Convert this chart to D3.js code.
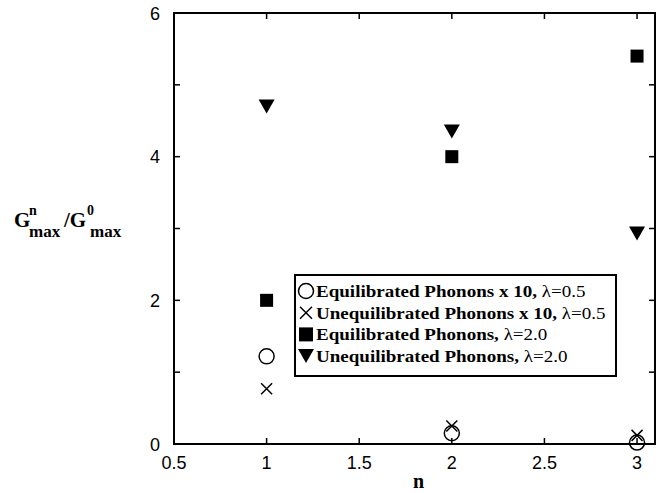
<!DOCTYPE html>
<html>
<head>
<meta charset="utf-8">
<script src="https://cdn.jsdelivr.net/npm/d3@7"></script>
<style>
  body { margin: 0; background: #fff; }
</style>
</head>
<body>
<div class="container"></div>
<script>
const nValues = [1, 2, 3];
const eqPhonons05 = [1.22, 0.15, 0.02];   // x 10, lambda=0.5
const uneqPhonons05 = [0.77, 0.25, 0.12]; // x 10, lambda=0.5
const eqPhonons20 = [2.0, 4.0, 5.4];
const uneqPhonons20 = [4.7, 4.35, 2.93];
const xTicks = [0.5, 1, 1.5, 2, 2.5, 3];
const yTicks = [0, 1, 2, 3, 4, 5, 6];
const yLabels = [0, 2, 4, 6];
const legendLabels = [
  ["Equilibrated Phonons x 10, ", "0.5"],
  ["Unequilibrated Phonons x 10, ", "0.5"],
  ["Equilibrated Phonons, ", "2.0"],
  ["Unequilibrated Phonons, ", "2.0"]
];

const width = 666;
const height = 493;
const margin = { top: 13, right: 11, bottom: 49, left: 174 };

const svg = d3.select(".container").append("svg")
  .attr("width", width)
  .attr("height", height);

const x = d3.scaleLinear()
  .domain([0.5, 3.097])
  .range([margin.left, width - margin.right]);

const y = d3.scaleLinear()
  .domain([0, 6])
  .range([height - margin.bottom, margin.top]);

const sans = "'Liberation Sans', Arial, sans-serif";
const serif = "'Liberation Serif', 'Times New Roman', serif";

// frame
svg.append("rect")
  .attr("x", x(0.5))
  .attr("y", y(6))
  .attr("width", x.range()[1] - x(0.5))
  .attr("height", y(0) - y(6))
  .attr("fill", "none")
  .attr("stroke", "#000")
  .attr("stroke-width", 2);

const tickLen = 6;
// x ticks bottom and top (inward)
svg.append("g").selectAll("line")
  .data(xTicks.slice(1))
  .enter().append("line")
  .attr("x1", d => x(d)).attr("x2", d => x(d))
  .attr("y1", y(0)).attr("y2", y(0) - tickLen)
  .attr("stroke", "#000").attr("stroke-width", 1.5);
svg.append("g").selectAll("line")
  .data(xTicks.slice(1))
  .enter().append("line")
  .attr("x1", d => x(d)).attr("x2", d => x(d))
  .attr("y1", y(6)).attr("y2", y(6) + tickLen)
  .attr("stroke", "#000").attr("stroke-width", 1.5);
// y ticks left and right
svg.append("g").selectAll("line")
  .data(yTicks.slice(1, -1))
  .enter().append("line")
  .attr("x1", x(0.5)).attr("x2", x(0.5) + tickLen)
  .attr("y1", d => y(d)).attr("y2", d => y(d))
  .attr("stroke", "#000").attr("stroke-width", 1.5);
svg.append("g").selectAll("line")
  .data(yTicks.slice(1, -1))
  .enter().append("line")
  .attr("x1", x.range()[1]).attr("x2", x.range()[1] - tickLen)
  .attr("y1", d => y(d)).attr("y2", d => y(d))
  .attr("stroke", "#000").attr("stroke-width", 1.5);

// tick labels
svg.append("g").selectAll("text")
  .data(xTicks)
  .enter().append("text")
  .attr("x", d => x(d))
  .attr("y", y(0) + 25)
  .attr("text-anchor", "middle")
  .attr("font-family", sans)
  .attr("font-size", 18)
  .text(d => d);
svg.append("g").selectAll("text")
  .data(yLabels)
  .enter().append("text")
  .attr("x", x(0.5) - 14)
  .attr("y", d => y(d) + 6.5)
  .attr("text-anchor", "end")
  .attr("font-family", sans)
  .attr("font-size", 18)
  .text(d => d);

// axis titles
svg.append("text")
  .attr("x", (x.range()[0] + x.range()[1]) / 2 + 4)
  .attr("y", 488)
  .attr("text-anchor", "middle")
  .attr("font-family", serif)
  .attr("font-weight", "bold")
  .attr("font-size", 20)
  .text("n");

const yt = svg.append("text")
  .attr("font-family", serif)
  .attr("font-weight", "bold")
  .attr("font-size", 21);
yt.append("tspan").attr("x", 14).attr("y", 227).text("G");
yt.append("tspan").attr("x", 29).attr("y", 215).attr("font-size", 14).text("n");
yt.append("tspan").attr("x", 29).attr("y", 237).attr("font-size", 17).text("max");
yt.append("tspan").attr("x", 64).attr("y", 227).text("/G");
yt.append("tspan").attr("x", 87).attr("y", 215).attr("font-size", 14).text("0");
yt.append("tspan").attr("x", 90).attr("y", 237).attr("font-size", 17).text("max");

// markers
const pts = (vals) => nValues.map((n, i) => ({ n, v: vals[i] }));

svg.append("g").selectAll("circle")
  .data(pts(eqPhonons05))
  .enter().append("circle")
  .attr("cx", d => x(d.n))
  .attr("cy", d => y(d.v))
  .attr("r", 7.5)
  .attr("fill", "none")
  .attr("stroke", "#000")
  .attr("stroke-width", 1.5);

svg.append("g").selectAll("path")
  .data(pts(uneqPhonons05))
  .enter().append("path")
  .attr("d", d => {
    const cx = x(d.n), cy = y(d.v), s = 5.5;
    return `M${cx - s},${cy - s}L${cx + s},${cy + s}M${cx - s},${cy + s}L${cx + s},${cy - s}`;
  })
  .attr("stroke", "#000")
  .attr("stroke-width", 1.5);

svg.append("g").selectAll("rect")
  .data(pts(eqPhonons20))
  .enter().append("rect")
  .attr("x", d => x(d.n) - 6.5)
  .attr("y", d => y(d.v) - 6.5)
  .attr("width", 13)
  .attr("height", 13)
  .attr("fill", "#000");

svg.append("g").selectAll("path")
  .data(pts(uneqPhonons20))
  .enter().append("path")
  .attr("d", d => {
    const cx = x(d.n), cy = y(d.v);
    return `M${cx - 8},${cy - 7}L${cx + 8},${cy - 7}L${cx},${cy + 7}Z`;
  })
  .attr("fill", "#000");

// legend
const lg = svg.append("g");
lg.append("rect")
  .attr("x", 295).attr("y", 275)
  .attr("width", 321).attr("height", 101)
  .attr("fill", "#fff")
  .attr("stroke", "#000")
  .attr("stroke-width", 2);

const rowY = i => 291 + i * 21.7;
const symX = 306;

lg.append("circle")
  .attr("cx", symX).attr("cy", rowY(0))
  .attr("r", 7.5).attr("fill", "none")
  .attr("stroke", "#000").attr("stroke-width", 1.5);
lg.append("path")
  .attr("d", `M${symX - 6},${rowY(1) - 6}L${symX + 6},${rowY(1) + 6}M${symX - 6},${rowY(1) + 6}L${symX + 6},${rowY(1) - 6}`)
  .attr("stroke", "#000").attr("stroke-width", 1.5);
lg.append("rect")
  .attr("x", symX - 7).attr("y", rowY(2) - 7)
  .attr("width", 14).attr("height", 14)
  .attr("fill", "#000");
lg.append("path")
  .attr("d", `M${symX - 8},${rowY(3) - 7}L${symX + 8},${rowY(3) - 7}L${symX},${rowY(3) + 7}Z`)
  .attr("fill", "#000");

legendLabels.forEach((lab, i) => {
  const t = lg.append("text")
    .attr("transform", `translate(316,${rowY(i) + 6}) scale(1.12,1)`)
    .attr("font-family", serif)
    .attr("font-size", 17);
  t.append("tspan").attr("font-weight", "bold").text(lab[0]);
  t.append("tspan").text("\u03bb=" + lab[1]);
});
</script>
</body>
</html>
